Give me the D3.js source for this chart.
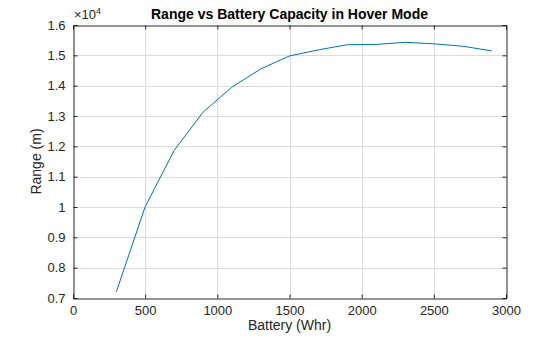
<!DOCTYPE html>
<html>
<head>
<meta charset="utf-8">
<script src="https://cdn.jsdelivr.net/npm/d3@7"></script>
<style>
  body { margin: 0; background: #fff; }
  svg { display: block; font-family: "Liberation Sans", Arial, Helvetica, sans-serif; }
</style>
</head>
<body>
<svg id="chart" width="560" height="337"></svg>
<script>
// Battery capacity (Whr) and resulting hover range (m)
const battery = [300, 500, 700, 900, 1100, 1300, 1500, 1700, 1900, 2100, 2300, 2500, 2700, 2900];
const range = [7200, 10010, 11860, 13120, 13950, 14550, 14980, 15180, 15350, 15360, 15430, 15380, 15300, 15150];

const xTicks = [0, 500, 1000, 1500, 2000, 2500, 3000];
const yTicks = [7000, 8000, 9000, 10000, 11000, 12000, 13000, 14000, 15000, 16000];
const yTickLabels = ["0.7", "0.8", "0.9", "1", "1.1", "1.2", "1.3", "1.4", "1.5", "1.6"];

const titleText = "Range vs Battery Capacity in Hover Mode";
const xLabelText = "Battery (Whr)";
const yLabelText = "Range (m)";

const margin = { left: 73, right: 54, top: 25, bottom: 39 };
const W = 560, H = 337;
const x0 = margin.left, x1 = W - margin.right;
const y0 = H - margin.bottom, y1 = margin.top;

const axisColor = "#262626";
const gridColor = "#dcdcdc";
const lineColor = "#0072bd";

const svg = d3.select("#chart");

const x = d3.scaleLinear().domain([0, 3000]).range([x0, x1]);
const y = d3.scaleLinear().domain([7000, 16000]).range([y0, y1]);

// grid
const grid = svg.append("g");
grid.selectAll("line.gx").data(xTicks.slice(1, -1)).join("line")
  .attr("x1", d => Math.round(x(d)) + 0.5).attr("x2", d => Math.round(x(d)) + 0.5)
  .attr("y1", y1).attr("y2", y0)
  .attr("stroke", gridColor).attr("stroke-width", 1);
grid.selectAll("line.gy").data(yTicks.slice(1, -1)).join("line")
  .attr("y1", d => Math.round(y(d)) + 0.5).attr("y2", d => Math.round(y(d)) + 0.5)
  .attr("x1", x0).attr("x2", x1)
  .attr("stroke", gridColor).attr("stroke-width", 1);

// data line
const line = d3.line().x((d, i) => x(battery[i])).y(d => y(d));
svg.append("path")
  .datum(range)
  .attr("d", line)
  .attr("fill", "none")
  .attr("stroke", lineColor)
  .attr("stroke-width", 1);

// axes (ticks pointing inward, box on)
const tickLen = 4;
const xAxisB = d3.axisBottom(x).tickValues(xTicks).tickSize(-tickLen).tickPadding(7).tickFormat(d3.format("d"));
const xAxisT = d3.axisTop(x).tickValues(xTicks).tickSize(-tickLen).tickFormat("");
const yAxisL = d3.axisLeft(y).tickValues(yTicks).tickSize(-tickLen).tickPadding(tickLen + 4)
  .tickFormat((d, i) => yTickLabels[i]);
const yAxisR = d3.axisRight(y).tickValues(yTicks).tickSize(-tickLen).tickFormat("");

function styleAxis(g) {
  g.select(".domain").attr("stroke", axisColor).attr("stroke-width", 1);
  g.selectAll(".tick line").attr("stroke", axisColor).attr("stroke-width", 1);
  g.selectAll(".tick text").attr("fill", axisColor).attr("font-size", 13)
    .attr("font-family", "'Liberation Sans', Arial, sans-serif");
}

svg.append("g").attr("transform", `translate(0,${y0 + 0.5})`).call(xAxisB).call(styleAxis);
svg.append("g").attr("transform", `translate(0,${y1 + 0.5})`).call(xAxisT).call(styleAxis);
svg.append("g").attr("transform", `translate(${x0 + 0.5},0)`).call(yAxisL).call(styleAxis);
svg.append("g").attr("transform", `translate(${x1 + 0.5},0)`).call(yAxisR).call(styleAxis);

// exponent label
const expo = svg.append("text")
  .attr("x", x0 + 1).attr("y", 19)
  .attr("fill", axisColor).attr("font-size", 13);
expo.append("tspan").text("\u00d710");
expo.append("tspan").attr("dy", -5).attr("font-size", 9).text("4");

// title
svg.append("text")
  .attr("x", (x0 + x1) / 2).attr("y", 18.5)
  .attr("text-anchor", "middle")
  .attr("font-weight", "bold").attr("font-size", 14)
  .attr("fill", "#000")
  .text(titleText);

// axis labels
svg.append("text")
  .attr("x", (x0 + x1) / 2).attr("y", 329.5)
  .attr("text-anchor", "middle")
  .attr("font-size", 14).attr("fill", axisColor)
  .text(xLabelText);

svg.append("text")
  .attr("transform", `translate(41,${(y0 + y1) / 2}) rotate(-90)`)
  .attr("text-anchor", "middle")
  .attr("font-size", 14).attr("fill", axisColor)
  .text(yLabelText);
</script>
</body>
</html>
